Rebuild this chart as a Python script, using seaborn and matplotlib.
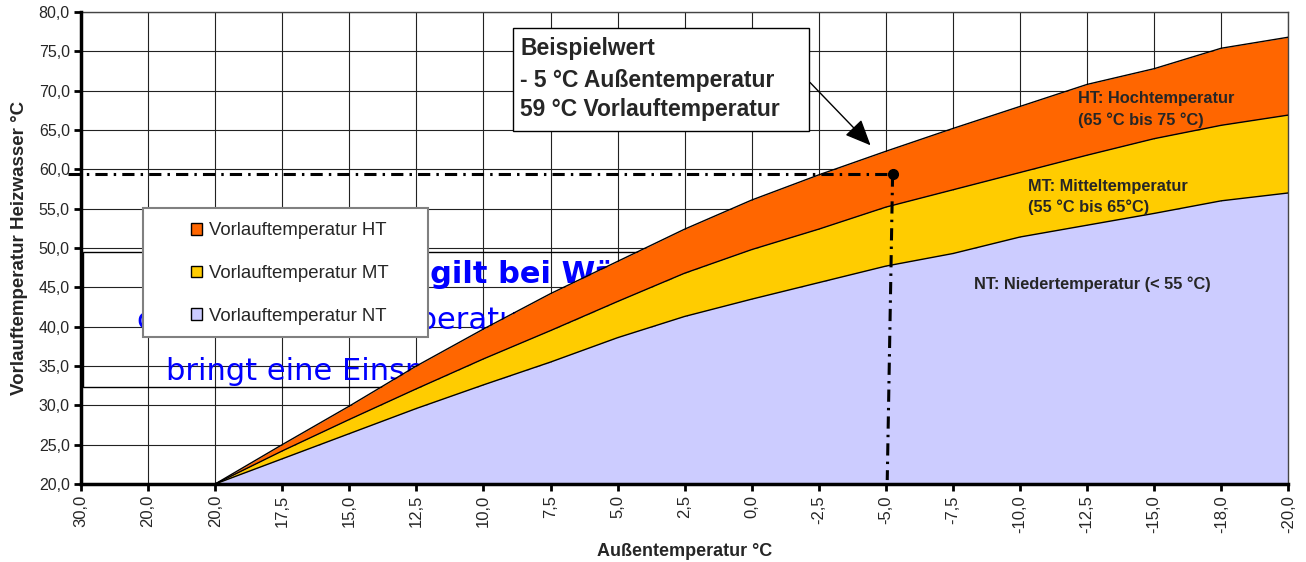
import matplotlib
matplotlib.use('Agg')
import matplotlib.pyplot as plt
import matplotlib.patches as patches
import numpy as np
import pandas as pd
import seaborn as sns

# Außentemperatur categories (as printed on the axis)
categories = ['30,0', '20,0', '20,0', '17,5', '15,0', '12,5', '10,0', '7,5', '5,0', '2,5',
              '0,0', '-2,5', '-5,0', '-7,5', '-10,0', '-12,5', '-15,0', '-18,0', '-20,0']

# upper edge of each band (°C), first two categories empty
ht_values = [np.nan, np.nan, 20.0, 25.0, 29.9, 35.0, 39.7, 44.2, 48.3, 52.4,
             56.1, 59.3, 62.3, 65.2, 68.0, 70.8, 72.8, 75.4, 76.8]
mt_values = [np.nan, np.nan, 20.0, 24.2, 28.2, 32.1, 35.9, 39.5, 43.2, 46.8,
             49.8, 52.4, 55.2, 57.4, 59.6, 61.8, 63.9, 65.6, 66.9]
nt_values = [np.nan, np.nan, 20.0, 23.2, 26.4, 29.6, 32.6, 35.5, 38.6, 41.3,
             43.5, 45.6, 47.7, 49.3, 51.4, 52.9, 54.4, 56.0, 57.0]

series_names = ['Vorlauftemperatur HT', 'Vorlauftemperatur MT', 'Vorlauftemperatur NT']
box_lines = ['Beispielwert', '- 5 °C Außentemperatur', '59 °C Vorlauftemperatur']

# example point: -5 °C outside -> ~59 °C flow
example_x = 12.1
example_y = 59.35

df = pd.DataFrame({
    'pos': np.arange(len(categories)),
    'HT': ht_values,
    'MT': mt_values,
    'NT': nt_values,
})

sns.set_theme(style='white')
plt.rcParams['font.family'] = ['Liberation Sans', 'DejaVu Sans']

fig = plt.figure(figsize=(13.06, 5.62), dpi=100)
ax = fig.add_axes([0.062, 0.1388, 0.9245, 0.8398])

base = 20.0
ht_col = '#FF6600'
mt_col = '#FFCC00'
nt_col = '#CCCCFF'
blue = '#0000FF'

# old text box lying behind the chart (mostly hidden)
ax.add_patch(patches.Rectangle((0.03, 32.33), 9, 17.16, fc='none', ec='black', lw=1.0, zorder=1.5))
ax.text(2.33, 45.55, 'Faustregel gilt bei Wärmepumpen:', color=blue, fontsize=22,
        fontweight='bold', family='DejaVu Sans', va='baseline', ha='left', zorder=1.6)
ax.text(0.835, 39.7, 'ca. 1 K Vorlauftemperatur weniger', color=blue, fontsize=22,
        family='DejaVu Sans', va='baseline', ha='left', zorder=1.6)
ax.text(1.268, 33.2, 'bringt eine Einsparung von ca. 2,5 %', color=blue, fontsize=22,
        family='DejaVu Sans', va='baseline', ha='left', zorder=1.6)

# stacked bands
ax.fill_between(df['pos'], df['MT'], df['HT'], color=ht_col, lw=0, zorder=2)
ax.fill_between(df['pos'], df['NT'], df['MT'], color=mt_col, lw=0, zorder=2)
ax.fill_between(df['pos'], base, df['NT'], color=nt_col, lw=0, zorder=2)
for col in ['HT', 'MT', 'NT']:
    sns.lineplot(data=df, x='pos', y=col, ax=ax, color='black', lw=1.0, zorder=3)

# example lines
dashdot = (0, (4, 2, 0.8, 2))
ax.plot([-0.2, example_x], [example_y, example_y], color='black', lw=2.2,
        linestyle=dashdot, zorder=4, clip_on=False)
ax.plot([example_x, example_x - 0.08], [example_y, 20.5], color='black', lw=2.2,
        linestyle=dashdot, zorder=4)
ax.plot([example_x], [example_y], 'o', color='black', ms=7, zorder=5)

# annotation box + arrow
ax.add_patch(patches.Rectangle((6.442, 64.87), 4.414, 13.09, fc='white', ec='black',
                               lw=1.0, zorder=6))
for line, yv in zip(box_lines, [75.3, 71.35, 67.55]):
    ax.text(6.55, yv, line, fontsize=16.5, fontweight='bold', va='center', ha='left', zorder=6.5)
ax.annotate('', xy=(11.8, 62.8), xytext=(10.84, 71.3),
            arrowprops=dict(arrowstyle='-|>,head_length=0.8,head_width=0.35',
                            color='black', lw=1.0, mutation_scale=20),
            zorder=6)

# band labels
ax.text(14.87, 67.6, 'HT: Hochtemperatur\n(65 °C bis 75 °C)', fontsize=11.8,
        fontweight='bold', va='center', ha='left', linespacing=1.45, zorder=6)
ax.text(14.12, 56.5, 'MT: Mitteltemperatur\n(55 °C bis 65°C)', fontsize=11.8,
        fontweight='bold', va='center', ha='left', linespacing=1.45, zorder=6)
ax.text(13.32, 45.4, 'NT: Niedertemperatur (< 55 °C)', fontsize=11.8,
        fontweight='bold', va='center', ha='left', zorder=6)

# axes
ax.set_xlim(0, len(categories) - 1)
ax.set_ylim(20, 80)
ax.set_xticks(df['pos'])
ax.set_xticklabels(categories, rotation=90, fontsize=12)
yt = np.arange(20, 81, 5)
ax.set_yticks(yt)
ax.set_yticklabels([f'{v:.1f}'.replace('.', ',') for v in yt], fontsize=11.5)
ax.grid(True, color='#222222', lw=0.8, zorder=1)
ax.set_axisbelow(True)
ax.tick_params(axis='both', direction='out', length=5, width=2, color='black',
               bottom=True, left=True, pad=3)
for s in ['left', 'bottom']:
    ax.spines[s].set_color('black')
    ax.spines[s].set_linewidth(2.5)
    ax.spines[s].set_zorder(7)
for s in ['top', 'right']:
    ax.spines[s].set_color('#444444')
    ax.spines[s].set_linewidth(1.0)
ax.set_xlabel('Außentemperatur °C', fontsize=13, fontweight='bold', labelpad=7)
ax.set_ylabel('Vorlauftemperatur Heizwasser °C', fontsize=13.5, fontweight='bold', labelpad=8)

# legend with its own frame
ax.add_patch(patches.Rectangle((0.925, 38.68), 4.245, 16.39, fc='white', ec='#808080',
                               lw=1.5, zorder=7))
handles = [patches.Patch(fc=c, ec='black', lw=1) for c in [ht_col, mt_col, nt_col]]
leg = ax.legend(handles, series_names, loc='upper left', bbox_to_anchor=(1.64, 53.25),
                bbox_transform=ax.transData, fontsize=13.4,
                handlelength=0.6, handleheight=0.6, handletextpad=0.35,
                labelspacing=1.38, borderpad=0, frameon=False, borderaxespad=0)
leg.set_zorder(8)

fig.savefig('out.png', dpi=100)
